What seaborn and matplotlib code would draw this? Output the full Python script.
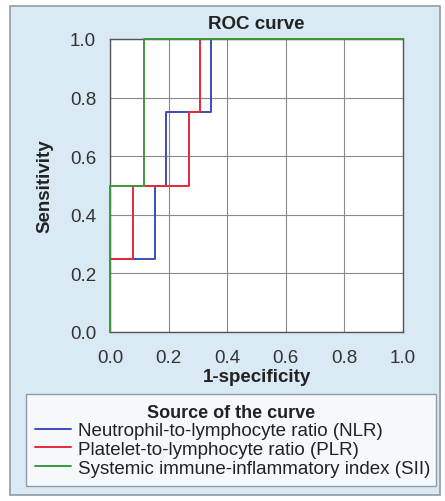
import matplotlib
matplotlib.use("Agg")
import matplotlib.pyplot as plt
import seaborn as sns
import pandas as pd
from matplotlib.patches import Rectangle

# ROC curve vertices (1-specificity, sensitivity)
nlr_fpr = [0.0, 0.0, 0.154, 0.154, 0.192, 0.192, 0.346, 0.346, 1.0]
nlr_tpr = [0.0, 0.25, 0.25, 0.50, 0.50, 0.75, 0.75, 1.0, 1.0]
plr_fpr = [0.0, 0.0, 0.077, 0.077, 0.269, 0.269, 0.308, 0.308, 1.0]
plr_tpr = [0.0, 0.25, 0.25, 0.50, 0.50, 0.75, 0.75, 1.0, 1.0]
sii_fpr = [0.0, 0.0, 0.115, 0.115, 1.0]
sii_tpr = [0.0, 0.50, 0.50, 1.0, 1.0]

labels = ["Neutrophil-to-lymphocyte ratio (NLR)",
          "Platelet-to-lymphocyte ratio (PLR)",
          "Systemic immune-inflammatory index (SII)"]
colors = ["#3b4cc0", "#e8283c", "#3c9a3c"]
ticks = [0.0, 0.2, 0.4, 0.6, 0.8, 1.0]

sns.set_style("white")
plt.rcParams['font.family'] = ['Liberation Sans', 'DejaVu Sans']

W, H = 445, 502
fig = plt.figure(figsize=(W / 100, H / 100), dpi=100, facecolor="white")
fig.patches.append(Rectangle((10 / W, 1 - 496 / H), 430 / W, 489 / H,
                             transform=fig.transFigure, facecolor="#d9eaf5",
                             edgecolor="#8f9ca6", linewidth=1.2, zorder=-10))

ax = fig.add_axes([110 / W, 1 - 333 / H, 293 / W, 293 / H])
ax.set_facecolor("white")

series = [(nlr_fpr, nlr_tpr), (plr_fpr, plr_tpr), (sii_fpr, sii_tpr)]
for (fx, ty), lab, col in zip(series, labels, colors):
    df = pd.DataFrame({"x": fx, "y": ty})
    sns.lineplot(data=df, x="x", y="y", sort=False, ax=ax, color=col,
                 linewidth=1.4, label=lab, estimator=None,
                 clip_on=False, zorder=5)

ax.set_xlim(0, 1)
ax.set_ylim(0, 1)
ax.set_xticks(ticks)
ax.set_yticks(ticks)
ax.set_xticklabels([f"{t:.1f}" for t in ticks])
ax.set_yticklabels([f"{t:.1f}" for t in ticks])
ax.grid(True, color="#8a8a8a", linewidth=0.8)
ax.set_axisbelow(True)
for s in ax.spines.values():
    s.set_color("#555555")
    s.set_linewidth(1.0)
    s.set_zorder(2)
ax.tick_params(axis="both", direction="out", length=7, width=0.9,
               color="#555555", labelsize=13.5, labelcolor="#333333", pad=3)
ax.tick_params(axis="x", pad=5)
ax.set_xlabel("1-specificity", fontsize=13.5, fontweight="bold", color="#222222", labelpad=2)
ax.set_ylabel("Sensitivity", fontsize=13.5, fontweight="bold", color="#222222", labelpad=12)
ax.set_title("ROC curve", fontsize=13.5, fontweight="bold", color="#222222", pad=8)

handles, labs = ax.get_legend_handles_labels()
ax.get_legend().remove()
leg = fig.legend(handles, labs, loc="lower left",
                 bbox_to_anchor=(26 / W, 1 - 487 / H, 410 / W, 97 / H),
                 mode="expand", title="Source of the curve",
                 fontsize=13.5, title_fontproperties={"weight": "bold", "size": 13},
                 frameon=True, fancybox=False, edgecolor="#8f9ca6",
                 facecolor="#f5f9fc", framealpha=1, handlelength=1.9,
                 handletextpad=0.35, labelspacing=0.08, borderpad=0.5,
                 borderaxespad=0)
leg.get_frame().set_linewidth(1.0)
for t in leg.get_texts():
    t.set_color("#222222")
leg.get_title().set_color("#222222")

fig.savefig("out.png", dpi=100, facecolor="white")
